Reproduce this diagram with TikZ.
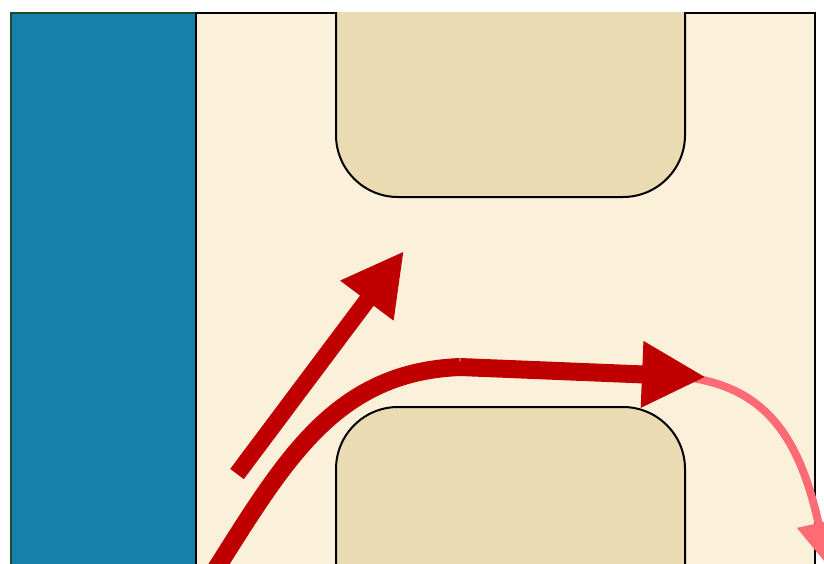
\documentclass[tikz,border=0pt]{standalone}
\usetikzlibrary{arrows.meta}
\definecolor{seab}{HTML}{1580AA}
\definecolor{seae}{HTML}{1E4A2C}
\definecolor{landf}{HTML}{FBF1DA}
\definecolor{shoal}{HTML}{EADBB2}
\definecolor{flowr}{HTML}{C00000}
\definecolor{flowp}{HTML}{FF6B75}
\begin{document}
\begin{tikzpicture}[x=1pt,y=-1pt,
  shelf/.style={draw=black,line width=2pt,fill=shoal},
  main/.style={line width=18pt,draw=flowr},
  fast/.style={-{Triangle[length=62pt,width=62pt]},line width=17pt,draw=flowr},
  weak/.style={-{Triangle[length=44pt,width=42pt]},line width=8pt,draw=flowp}]
\clip (0,0) rectangle (824,563);
\fill[white] (0,0) rectangle (824,563);
% sea and land
\node[draw=seae,fill=seab,line width=1.8pt,inner sep=0pt,minimum width=185pt,minimum height=580pt,anchor=north west] (sea) at (10,12) {};
\node[draw=black,fill=landf,line width=1.8pt,inner sep=0pt,minimum width=619pt,minimum height=580pt,anchor=north west] (land) at (195,12) {};
% shoals
\fill[shoal] (336,12) [rounded corners=62pt] -- (336,197) -- (685,197) [sharp corners] -- (685,12) -- cycle;
\draw[shelf,fill=none] (336,12) [rounded corners=62pt] -- (336,197) -- (685,197) [sharp corners] -- (685,12);
\fill[shoal] (336,590) [rounded corners=62pt] -- (336,407) -- (685,407) [sharp corners] -- (685,590) -- cycle;
\draw[shelf,fill=none] (336,590) [rounded corners=62pt] -- (336,407) -- (685,407) [sharp corners] -- (685,590);
% flow points
\coordinate (s1) at (237,474);
\coordinate (t1) at (404,251);
\coordinate (s2) at (214,572);
\coordinate (m2) at (460,367);
\coordinate (t2) at (706,377);
\coordinate (s3) at (692,378);
\coordinate (t3) at (828,566);
% flows
\draw[weak] (s3) .. controls (768,390) and (800,440) .. (t3);
\draw[fast] (s1) -- (t1);
\draw[main] (s2) .. controls (285,460) and (335,372) .. (m2);
\draw[main,-{Triangle[length=64pt,width=62pt]}] (m2) -- (t2);
\end{tikzpicture}
\end{document}
